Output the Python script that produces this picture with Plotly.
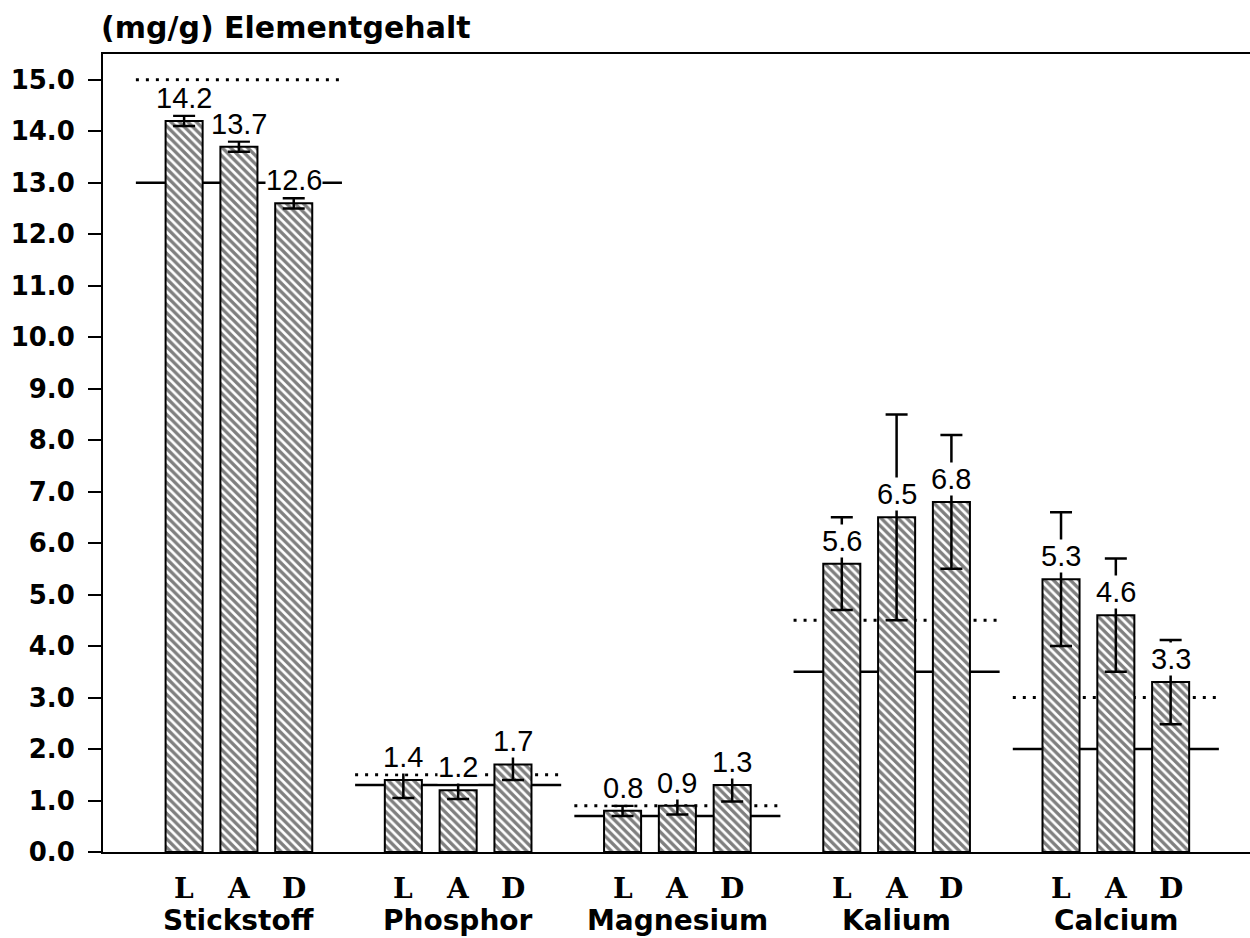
import plotly.graph_objects as go

# Element contents (mg/g) per element for the three variants L, A, D
elements = ["Stickstoff", "Phosphor", "Magnesium", "Kalium", "Calcium"]
variants = ["L", "A", "D"]
values_L = [14.2, 1.4, 0.8, 5.6, 5.3]
values_A = [13.7, 1.2, 0.9, 6.5, 4.6]
values_D = [12.6, 1.7, 1.3, 6.8, 3.3]
err_L = [0.1, 0.35, 0.1, 0.9, 1.3]
err_A = [0.1, 0.17, 0.17, 2.0, 1.1]
err_D = [0.1, 0.3, 0.32, 1.3, 0.82]
# reference levels: solid = lower limit, dotted = optimum
ref_solid = [13.0, 1.3, 0.7, 3.5, 2.0]
ref_dotted = [15.0, 1.5, 0.9, 4.5, 3.0]
y_ticks = [float(v) for v in range(0, 16)]

series = [(values_L, err_L), (values_A, err_A), (values_D, err_D)]
offsets = [-0.25, 0.0, 0.25]
bar_w = 0.169
half_span = 0.47

TICK_FONT = dict(family="DejaVu Sans", size=26, color="black", weight="bold")
NAME_FONT = dict(family="DejaVu Sans", size=28, color="black", weight="bold")
TITLE_FONT = dict(family="DejaVu Sans", size=30, color="black", weight="bold")
LETTER_FONT = dict(family="DejaVu Serif", size=28, color="black", weight="bold")
VALUE_FONT = dict(family="Liberation Sans", size=29, color="black")

fig = go.Figure()

for name, (vals, errs), off in zip(variants, series, offsets):
    xs = [i + off for i in range(len(elements))]
    fig.add_trace(go.Bar(
        x=xs, y=vals, width=bar_w, name=name,
        marker=dict(
            color="white",
            line=dict(color="black", width=2),
            pattern=dict(shape="\\", fgcolor="black", bgcolor="white",
                         size=6, solidity=0.55, fillmode="overlay"),
        ),
        error_y=dict(type="data", array=errs, visible=True,
                     color="black", thickness=2.5, width=11),
        showlegend=False, hoverinfo="skip",
    ))

shapes = []
for i, (s, d) in enumerate(zip(ref_solid, ref_dotted)):
    shapes.append(dict(type="line", xref="x", yref="y", layer="below",
                       x0=i - half_span, x1=i + half_span, y0=s, y1=s,
                       line=dict(color="black", width=2.5)))
    shapes.append(dict(type="line", xref="x", yref="y", layer="below",
                       x0=i - half_span, x1=i + half_span, y0=d, y1=d,
                       line=dict(color="black", width=3, dash="3px,7px")))

annotations = []
# value labels above the bars, knocking out lines behind them
for vals, off in zip([values_L, values_A, values_D], offsets):
    for i, v in enumerate(vals):
        annotations.append(dict(
            x=i + off, y=v, xref="x", yref="y", text=f"{v:.1f}",
            showarrow=False, yanchor="middle", yshift=23,
            bgcolor="white", borderpad=0, font=VALUE_FONT))

# category labels under the axis
for i, el in enumerate(elements):
    for v, off in zip(variants, offsets):
        annotations.append(dict(
            x=i + off, y=0, xref="x", yref="y", text=v, showarrow=False,
            yanchor="middle", yshift=-36, font=LETTER_FONT))
    annotations.append(dict(
        x=i, y=0, xref="x", yref="y", text=el, showarrow=False,
        yanchor="middle", yshift=-68, font=NAME_FONT))

# axis unit title
annotations.append(dict(
    x=0, y=1, xref="paper", yref="paper", text="(mg/g) Elementgehalt",
    showarrow=False, xanchor="left", yanchor="middle", xshift=-4, yshift=27,
    font=TITLE_FONT))

fig.update_layout(
    width=1250, height=938,
    margin=dict(l=103, r=0, t=54, b=86),
    paper_bgcolor="white", plot_bgcolor="white",
    shapes=shapes, annotations=annotations,
    barmode="overlay",
    xaxis=dict(range=[-0.62, 4.612], showgrid=False, zeroline=False,
               showticklabels=False, ticks="", showline=True, mirror=True,
               linecolor="black", linewidth=2),
    yaxis=dict(range=[0, 15.5], tickvals=y_ticks,
               ticktext=[f"{v:.1f}" for v in y_ticks],
               showgrid=False, zeroline=False, showline=True,
               linecolor="black", linewidth=2, ticks="outside",
               ticklen=13, tickwidth=2, tickcolor="black",
               ticklabelstandoff=8, tickfont=TICK_FONT),
)

fig.write_html("out.html")
